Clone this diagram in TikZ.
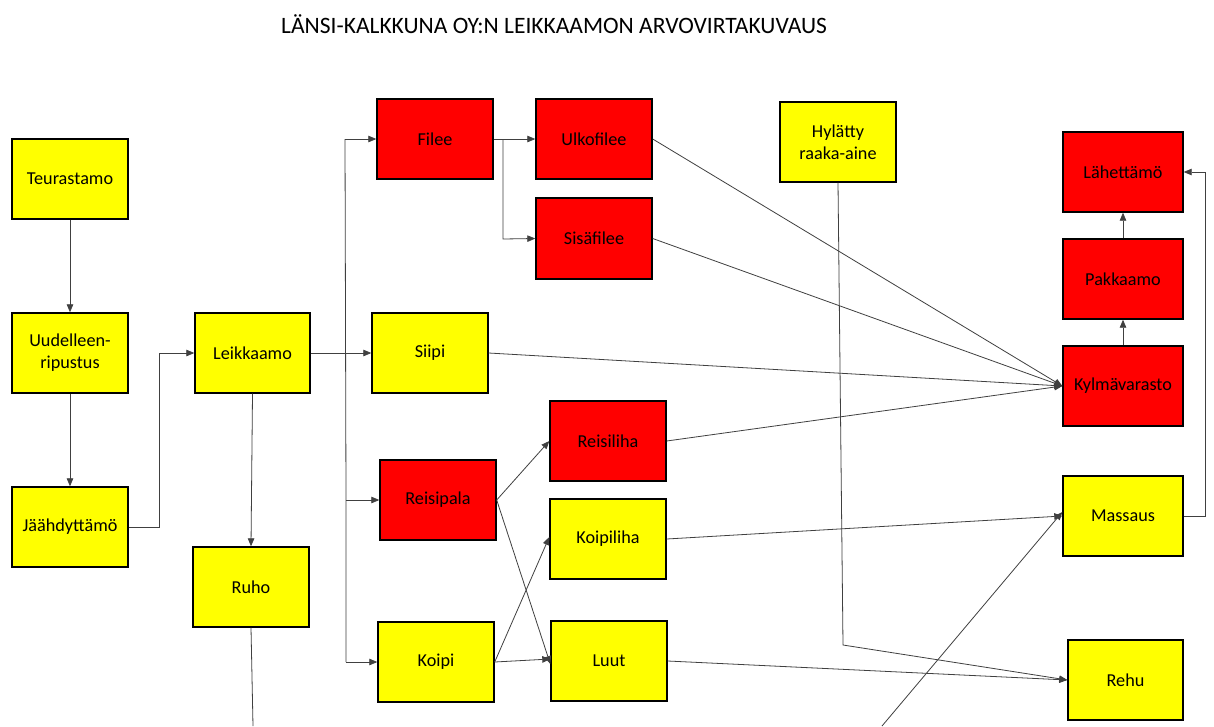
\documentclass[tikz,border=0pt]{standalone}
\usepackage{fontspec}
\setmainfont{Carlito}
\usetikzlibrary{arrows.meta}
\definecolor{boxred}{RGB}{255,0,0}
\definecolor{boxyellow}{RGB}{255,255,0}
\definecolor{linegray}{RGB}{64,64,64}
\begin{document}
\begin{tikzpicture}[x=1pt,y=-1pt,
  box/.style={draw=black, line width=1.4pt, minimum width=116pt, minimum height=80pt,
    align=center, inner sep=2pt, font=\fontsize{18.2}{22}\selectfont},
  rbox/.style={box, fill=boxred},
  ybox/.style={box, fill=boxyellow},
  conn/.style={draw=linegray, line width=0.8pt},
  arr/.style={conn, -{Triangle[length=8pt,width=6.5pt]}}]
\useasboundingbox (0,0) rectangle (1214,726);
\fill[white] (0,0) rectangle (1214,726);
\node[font=\fontsize{23.5}{27}\selectfont] (title) at (554,24) {LÄNSI-KALKKUNA OY:N LEIKKAAMON ARVOVIRTAKUVAUS};
% nodes
\node[ybox] (teur) at (70,179) {Teurastamo};
\node[ybox] (uud) at (70,353) {Uudelleen-\\ripustus};
\node[ybox] (jaa) at (70,527) {Jäähdyttämö};
\node[ybox, minimum width=115pt] (leik) at (252.5,353) {Leikkaamo};
\node[ybox] (ruho) at (251,587) {Ruho};
\node[rbox] (filee) at (435,139) {Filee};
\node[rbox] (ulko) at (594,139) {Ulkofilee};
\node[rbox, minimum height=81pt] (sisa) at (594,238.5) {Sisäfilee};
\node[ybox] (siipi) at (430,353) {Siipi};
\node[rbox] (reisi) at (438,500) {Reisipala};
\node[ybox] (koipi) at (436,662) {Koipi};
\node[rbox] (reisil) at (608,441) {Reisiliha};
\node[ybox] (koipil) at (608,539) {Koipiliha};
\node[ybox] (luut) at (609,661) {Luut};
\node[ybox] (hyl) at (838,142) {Hylätty\\raaka-aine};
\node[rbox, minimum width=120pt] (lah) at (1123,172) {Lähettämö};
\node[rbox, minimum width=120pt] (pak) at (1123,279) {Pakkaamo};
\node[rbox, minimum width=120pt] (kyl) at (1123,386) {Kylmävarasto};
\node[ybox, minimum width=120pt] (mas) at (1123,516) {Massaus};
\node[ybox, minimum width=115pt] (rehu) at (1125.5,680) {Rehu};
% free ends and bends
\coordinate (ruhoend) at (253,726);
\coordinate (botstart) at (882,726);
\coordinate (hylbend) at (843,645);
\coordinate (jb1) at (159,527);
\coordinate (jb2) at (159,353);
\coordinate (tt) at (345,139);
\coordinate (tr) at (346,500);
\coordinate (tk) at (346,662);
\coordinate (fb) at (503,139);
\coordinate (fs) at (503,239);
\coordinate (mb1) at (1205,516);
\coordinate (mb2) at (1205,172);
% connectors
\draw[arr] (teur.south) -- (uud.north);
\draw[arr] (uud.south) -- (jaa.north);
\draw[arr] (jaa.east) -- (jb1) -- (jb2) -- (leik.west);
\draw[arr] (leik.south) -- (ruho.north);
\draw[conn] (ruho.south) -- (ruhoend);
\draw[arr] (leik.east) -- (siipi.west);
\draw[conn] (tt) -- (tr) -- (tk);
\draw[arr] (tt) -- (filee.west);
\draw[arr] (tr) -- (reisi.west);
\draw[arr] (tk) -- (koipi.west);
\draw[arr] (filee.east) -- (ulko.west);
\draw[arr] (fb) -- (fs) -- (sisa.west);
\draw[arr] (reisi.east) -- (reisil.west);
\draw[arr] (reisi.east) -- ([yshift=-3pt]luut.west);
\draw[arr] (koipi.east) -- ([yshift=2pt]koipil.west);
\draw[arr] (koipi.east) -- ([yshift=2pt]luut.west);
\draw[arr] (ulko.east) -- (kyl.west);
\draw[arr] (sisa.east) -- (kyl.west);
\draw[arr] (siipi.east) -- (kyl.west);
\draw[arr] (reisil.east) -- (kyl.west);
\draw[arr] (kyl.north) -- (pak.south);
\draw[arr] (pak.north) -- (lah.south);
\draw[arr] (mas.east) -- (mb1) -- (mb2) -- (lah.east);
\draw[arr] (koipil.east) -- (mas.west);
\draw[arr] (botstart) -- ([yshift=4pt]mas.west);
\draw[arr] (hyl.south) -- (hylbend) -- (rehu.west);
\draw[arr] (luut.east) -- (rehu.west);
\end{tikzpicture}
\end{document}
